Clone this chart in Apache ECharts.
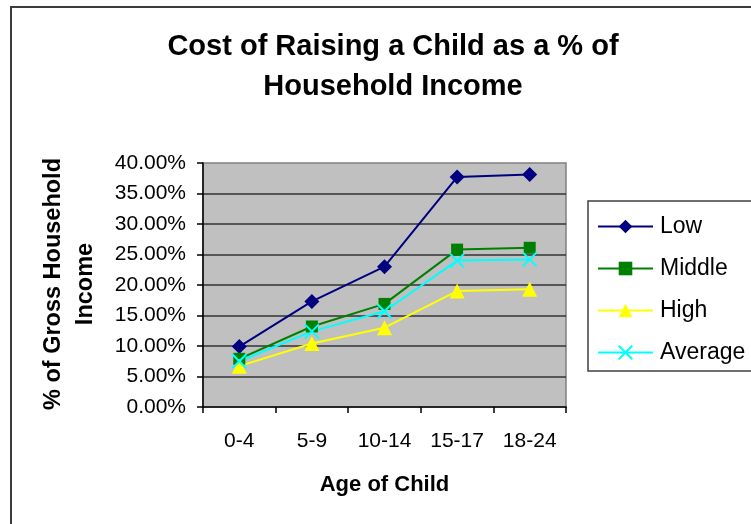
<!DOCTYPE html>
<html>
<head>
<meta charset="utf-8">
<script src="https://cdn.jsdelivr.net/npm/echarts@6/dist/echarts.min.js"></script>
<style>
  html, body { margin: 0; padding: 0; background: #fff; }
  #chart { width: 751px; height: 524px; }
</style>
</head>
<body>
<div id="chart"></div>
<script>
// Age bands of the child
const ageGroups = ['0-4', '5-9', '10-14', '15-17', '18-24'];

// Share of gross household income spent, in percent
const lowIncome = [9.9, 17.3, 23.0, 37.7, 38.1];
const middleIncome = [7.9, 13.2, 16.9, 25.8, 26.1];
const highIncome = [6.7, 10.4, 13.0, 19.0, 19.3];
const averageIncome = [7.5, 12.4, 15.7, 24.0, 24.2];

const seriesNames = ['Low', 'Middle', 'High', 'Average'];

const FONT = "'Liberation Sans', Arial, sans-serif";
const CROSS = 'path://M0,0L10,10M10,0L0,10';

const chart = echarts.init(document.getElementById('chart'), null, { renderer: 'canvas' });

function lineSeries(name, data, color, symbol, size, extraItem) {
  return {
    name: name,
    type: 'line',
    data: data,
    symbol: symbol,
    symbolSize: size,
    showAllSymbol: true,
    lineStyle: { color: color, width: 2 },
    itemStyle: Object.assign({ color: color, borderWidth: 0 }, extraItem || {}),
    emphasis: { disabled: true },
    animation: false
  };
}

chart.setOption({
  animation: false,
  backgroundColor: '#ffffff',
  textStyle: { fontFamily: FONT },
  title: {
    text: 'Cost of Raising a Child as a % of\nHousehold Income',
    left: 388,
    textAlign: 'center',
    top: 22,
    textStyle: {
      fontFamily: FONT,
      fontSize: 29,
      fontWeight: 'bold',
      color: '#000',
      lineHeight: 40
    }
  },
  legend: {
    orient: 'vertical',
    left: 588,
    top: 201,
    padding: [12, 12, 5, 9],
    itemGap: 15,
    itemWidth: 55,
    itemHeight: 17,
    borderColor: '#404040',
    borderWidth: 1.5,
    backgroundColor: '#fff',
    borderRadius: 0,
    selectedMode: false,
    data: seriesNames,
    textStyle: {
      fontFamily: FONT,
      fontSize: 23,
      color: '#000',
      lineHeight: 27,
      padding: [0, 0, 0, 2]
    }
  },
  grid: {
    left: 203,
    right: 185,
    top: 163,
    bottom: 117,
    show: true,
    backgroundColor: '#C0C0C0',
    borderColor: '#808080',
    borderWidth: 1.5
  },
  xAxis: {
    type: 'category',
    data: ageGroups,
    boundaryGap: true,
    name: 'Age of Child',
    nameLocation: 'middle',
    nameGap: 67,
    nameTextStyle: { fontFamily: FONT, fontSize: 22, fontWeight: 'bold', color: '#000' },
    axisLine: { show: true, lineStyle: { color: '#000', width: 1.5 } },
    axisTick: { show: true, alignWithLabel: false, interval: 0, length: 6, lineStyle: { color: '#000', width: 1.5 } },
    axisLabel: { fontFamily: FONT, fontSize: 21, color: '#000', margin: 24, interval: 0 },
    splitLine: { show: false }
  },
  yAxis: {
    type: 'value',
    min: 0,
    max: 40,
    interval: 5,
    axisLine: { show: true, lineStyle: { color: '#000', width: 1.5 } },
    axisTick: { show: true, length: 6, lineStyle: { color: '#000', width: 1.5 } },
    axisLabel: {
      fontFamily: FONT,
      fontSize: 21,
      color: '#000',
      margin: 17,
      formatter: function (v) { return v.toFixed(2) + '%'; }
    },
    splitLine: { show: true, showMinLine: false, showMaxLine: false, lineStyle: { color: '#333', width: 1.5 } }
  },
  graphic: [
    {
      type: 'rect',
      silent: true,
      z: 100,
      shape: { x: 11, y: 7, width: 800, height: 600 },
      style: { fill: 'none', stroke: '#3c3c3c', lineWidth: 2 }
    },
    {
      type: 'text',
      silent: true,
      x: 70,
      y: 284,
      rotation: Math.PI / 2,
      style: {
        text: '% of Gross Household\nIncome',
        fontFamily: FONT,
        fontSize: 23.5,
        fontWeight: 'bold',
        fill: '#000',
        lineHeight: 32,
        align: 'center',
        verticalAlign: 'middle'
      }
    }
  ],
  series: [
    lineSeries(seriesNames[0], lowIncome, '#000080', 'diamond', 15),
    lineSeries(seriesNames[1], middleIncome, '#008000', 'rect', 12),
    lineSeries(seriesNames[2], highIncome, '#FFFF00', 'triangle', 15),
    lineSeries(seriesNames[3], averageIncome, '#00FFFF', CROSS, 14,
      { borderColor: '#00FFFF', borderWidth: 2 })
  ]
});
</script>
</body>
</html>
